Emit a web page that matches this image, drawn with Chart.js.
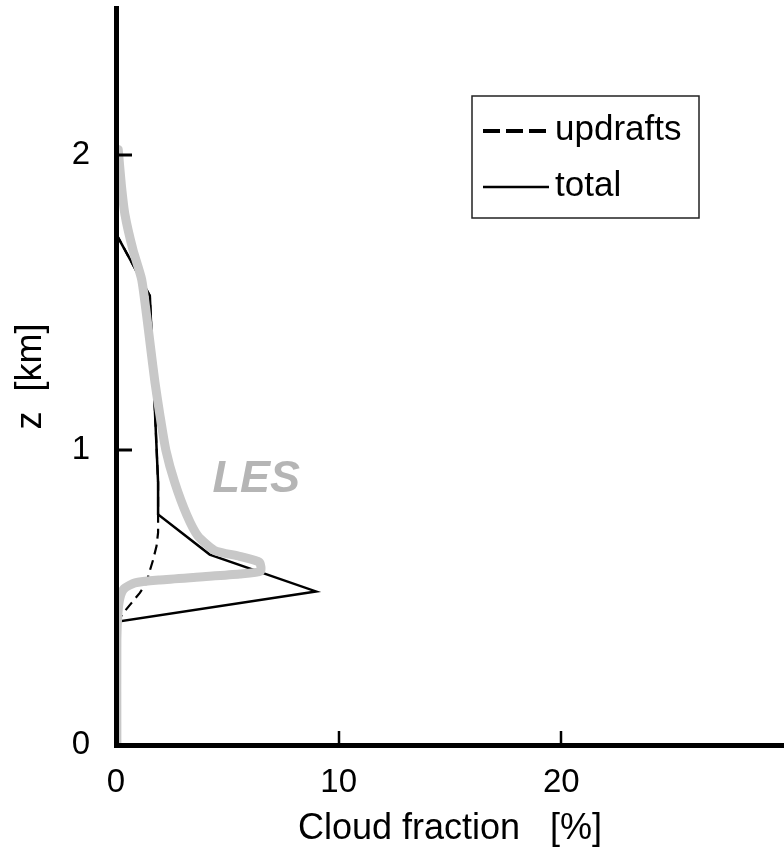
<!DOCTYPE html>
<html>
<head>
<meta charset="utf-8">
<script src="https://cdn.jsdelivr.net/npm/chart.js@4.4.1/dist/chart.umd.min.js"></script>
<style>
  html, body { margin: 0; padding: 0; background: #fff; }
  #wrap { width: 784px; height: 853px; position: relative; }
</style>
</head>
<body>
<div id="wrap"><canvas id="cloudChart"></canvas></div>
<script>
// Cloud fraction profiles, x = cloud fraction [%], z = height [km]
const lesCF = [0.10, 0.24, 0.40, 0.76, 1.15, 1.37, 1.55, 1.75, 1.97, 2.24, 2.64, 3.18, 3.67, 4.43, 5.55, 6.44, 6.49, 5.55, 3.76, 1.97, 0.85, 0.36, 0.18, 0.09, 0.04, 0.04];
const lesZ  = [2.02, 1.90, 1.80, 1.68, 1.58, 1.46, 1.35, 1.23, 1.12, 1.00, 0.89, 0.78, 0.71, 0.66, 0.64, 0.62, 0.59, 0.58, 0.57, 0.56, 0.55, 0.53, 0.50, 0.45, 0.36, 0.0];

const totalCF = [0, 1.52, 1.89, 1.89, 4.21, 8.98, 0.10, 0.04, 0];
const totalZ  = [1.735, 1.524, 0.891, 0.782, 0.646, 0.521, 0.419, 0.32, 0];

const updCF = [0, 1.52, 1.89, 1.89, 1.82, 1.67, 1.49, 1.37, 1.07, 0.70, 0.33, 0.13, 0.04];
const updZ  = [1.735, 1.524, 0.891, 0.720, 0.675, 0.629, 0.584, 0.550, 0.516, 0.482, 0.448, 0.425, 0.357];

const xTicks = [0, 10, 20];
const yTicks = [0, 1, 2];
const lesLabel = { text: 'LES', x: 6.3, z: 0.92 };

const FONT = "'Liberation Sans', Arial, Helvetica, sans-serif";
const toPoints = (xs, zs) => xs.map((v, i) => ({ x: v, y: zs[i] }));

// inward tick marks, legend box and LES label
const extras = {
  id: 'extras',
  afterDatasetsDraw(chart) {
    const { ctx, scales: { x, y } } = chart;
    ctx.save();
    ctx.strokeStyle = '#000';
    ctx.lineWidth = 3;
    yTicks.filter(v => v > 0).forEach(v => {
      const py = Math.round(y.getPixelForValue(v));
      ctx.beginPath();
      ctx.moveTo(x.left, py);
      ctx.lineTo(x.left + 16, py);
      ctx.stroke();
    });
    ctx.lineWidth = 2.5;
    xTicks.filter(v => v > 0).forEach(v => {
      const px = Math.round(x.getPixelForValue(v));
      ctx.beginPath();
      ctx.moveTo(px, y.bottom);
      ctx.lineTo(px, y.bottom - 14);
      ctx.stroke();
    });

    // LES annotation
    ctx.fillStyle = '#b5b5b5';
    ctx.font = `italic bold 45px ${FONT}`;
    ctx.textAlign = 'center';
    ctx.textBaseline = 'alphabetic';
    ctx.fillText(lesLabel.text, x.getPixelForValue(lesLabel.x), y.getPixelForValue(lesLabel.z) + 18);

    // legend
    ctx.lineWidth = 1.5;
    ctx.strokeStyle = '#222';
    ctx.strokeRect(472, 96, 227, 122);
    const items = chart.data.datasets.filter(d => d.inLegend);
    items.forEach((d, i) => {
      const ly = 131 + i * 56;
      const dashed = d.borderDash && d.borderDash.length;
      ctx.beginPath();
      ctx.setLineDash(dashed ? [17, 6] : []);
      ctx.lineWidth = dashed ? 4 : 2.5;
      ctx.strokeStyle = '#000';
      ctx.moveTo(483, ly);
      ctx.lineTo(549, ly);
      ctx.stroke();
      ctx.setLineDash([]);
      ctx.fillStyle = '#000';
      ctx.font = `35px ${FONT}`;
      ctx.textAlign = 'left';
      ctx.fillText(d.label, 555, ly + 9);
    });
    ctx.restore();
  }
};

new Chart(document.getElementById('cloudChart'), {
  type: 'scatter',
  data: {
    datasets: [
      {
        label: 'LES',
        data: toPoints(lesCF, lesZ),
        showLine: true,
        borderColor: '#c8c8c8',
        borderWidth: 9,
        borderJoinStyle: 'round',
        borderCapStyle: 'round',
        pointRadius: 0,
        tension: 0.2,
        inLegend: false
      },
      {
        label: 'updrafts',
        data: toPoints(updCF, updZ),
        showLine: true,
        borderColor: '#000',
        borderWidth: 2.2,
        borderDash: [10, 6],
        pointRadius: 0,
        tension: 0,
        inLegend: true
      },
      {
        label: 'total',
        data: toPoints(totalCF, totalZ),
        showLine: true,
        borderColor: '#000',
        borderWidth: 2.5,
        borderJoinStyle: 'miter',
        pointRadius: 0,
        tension: 0,
        inLegend: true
      }
    ]
  },
  options: {
    responsive: true,
    maintainAspectRatio: false,
    animation: false,
    layout: { padding: { top: 8, right: 0, left: 0, bottom: 0 } },
    plugins: {
      legend: { display: false },
      tooltip: { enabled: false }
    },
    scales: {
      x: {
        type: 'linear',
        min: 0,
        max: 30,
        afterBuildTicks: s => { s.ticks = xTicks.map(v => ({ value: v })); },
        afterFit: s => { s.height = 108; s.paddingLeft = 0; s.paddingRight = 0; },
        grid: { display: false, drawTicks: false },
        border: { display: true, color: '#000', width: 5, z: 1 },
        ticks: { color: '#000', padding: 18, maxRotation: 0, font: { family: FONT, size: 33 } },
        title: {
          display: true,
          text: 'Cloud fraction   [%]',
          color: '#000',
          font: { family: FONT, size: 36 },
          padding: { top: 0, bottom: 2 }
        }
      },
      y: {
        type: 'linear',
        min: 0,
        max: 2.5,
        afterBuildTicks: s => { s.ticks = yTicks.map(v => ({ value: v })); },
        afterFit: s => { s.width = 116; s.paddingTop = 0; s.paddingBottom = 0; },
        grid: { display: false, drawTicks: false },
        border: { display: true, color: '#000', width: 5, z: 1 },
        ticks: { color: '#000', padding: 26, font: { family: FONT, size: 33 } },
        title: {
          display: true,
          text: 'z  [km]',
          color: '#000',
          font: { family: FONT, size: 36 },
          padding: { top: 9, bottom: 0 }
        }
      }
    }
  },
  plugins: [extras]
});
</script>
</body>
</html>
